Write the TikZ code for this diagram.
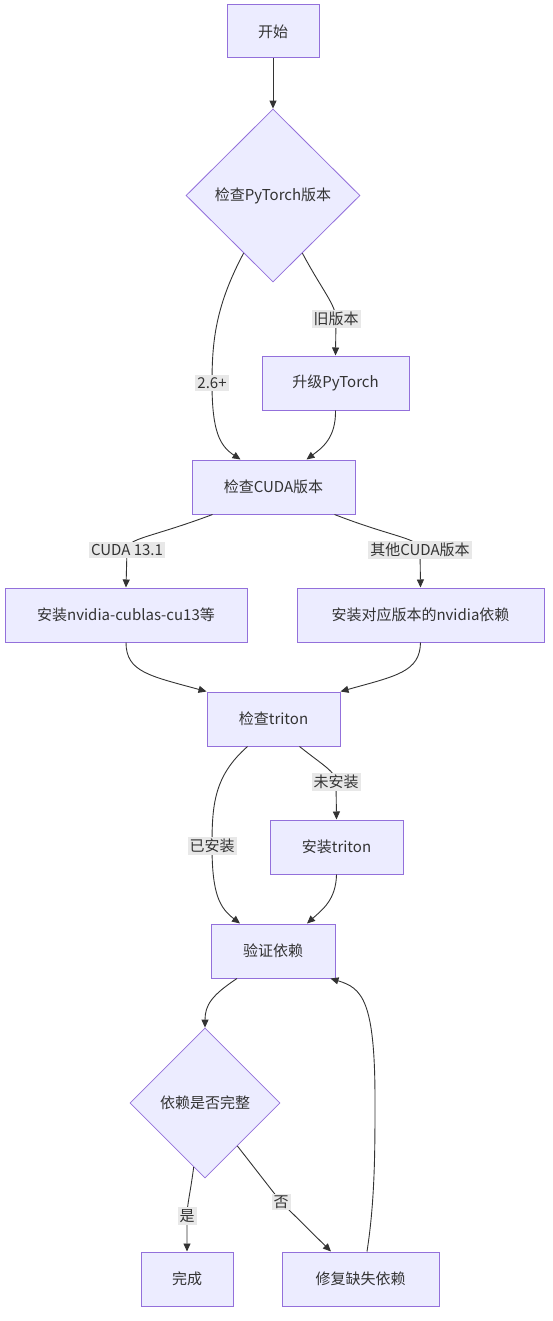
\documentclass[tikz,border=0pt]{standalone}
\usepackage{fontspec}
\usepackage{tikz}
\usetikzlibrary{shapes.geometric,arrows.meta}
\newfontfamily\cjk{Noto Sans CJK SC}
\definecolor{flowFill}{HTML}{ECECFF}
\definecolor{flowBorder}{HTML}{9370DB}
\definecolor{flowLine}{HTML}{333333}
\definecolor{flowLabel}{HTML}{E8E8E8}

\begin{document}
\begin{tikzpicture}[x=1pt, y=-1pt,
  every node/.style={font=\cjk\fontsize{15}{17}\selectfont, text=flowLine},
  box/.style={draw=flowBorder, fill=flowFill, line width=1pt, minimum height=54pt, inner sep=0pt},
  decide/.style={diamond, draw=flowBorder, fill=flowFill, line width=0.8pt, inner sep=0pt},
  lbl/.style={fill=flowLabel, inner sep=2pt},
  link/.style={draw=flowLine, line width=0.9pt, -{Triangle[length=8pt,width=7pt]}}
]

%
\useasboundingbox (0,0) rectangle (552,1321);

%
\node[box, minimum width=92pt, minimum height=53pt] (start) at (273,31.5) {开始};
\node[decide, minimum width=174pt, minimum height=173pt] (ptcheck) at (273,195.5) {检查PyTorch版本};
\node[box, minimum width=147pt] (upgrade) at (335.5,383) {升级PyTorch};
\node[box, minimum width=163pt] (cudacheck) at (273.5,487) {检查CUDA版本};
\node[box, minimum width=242pt] (cublas) at (126,615) {安装nvidia-cublas-cu13等};
\node[box, minimum width=247pt] (otherdeps) at (420.5,615) {安装对应版本的nvidia依赖};
\node[box, minimum width=133pt] (tritoncheck) at (273.5,719) {检查triton};
\node[box, minimum width=133pt] (tritoninst) at (336.5,847) {安装triton};
\node[box, minimum width=124pt] (verify) at (273,951) {验证依赖};
\node[decide, minimum width=150pt, minimum height=150pt] (complete) at (205,1103) {依赖是否完整};
\node[box, minimum width=92pt] (done) at (187,1279) {完成};
\node[box, minimum width=157pt] (repair) at (360.5,1279) {修复缺失依赖};

%
\draw[link] (start) -- (ptcheck);

%
\draw[link] (ptcheck.-117) .. controls (216,305) and (212,340) .. (212,383) node[lbl] {2.6+}
  .. controls (212,432) and (220,446) .. ([xshift=-33pt]cudacheck.north);
\draw[link] (ptcheck.-63) .. controls (322,290) and (336,305) .. (336,319) node[lbl] {旧版本}
  -- (upgrade.north);
\draw[link] (upgrade.south) .. controls (336,438) and (322,448) .. ([xshift=33pt]cudacheck.north);

%
\draw[link] ([xshift=-61pt]cudacheck.south) .. controls (150,538) and (127,538) .. (127,550) node[lbl] {CUDA 13.1}
  -- (cublas.north);
\draw[link] ([xshift=61pt]cudacheck.south) .. controls (395,538) and (420,538) .. (420,550) node[lbl] {其他CUDA版本}
  -- (otherdeps.north);

%
\draw[link] (cublas.south) .. controls (126,672) and (150,676) .. (tritoncheck.north west);
\draw[link] (otherdeps.south) .. controls (420,672) and (396,676) .. (tritoncheck.north east);

%
\draw[link] ([xshift=-26pt]tritoncheck.south) .. controls (214,776) and (212,805) .. (212,846) node[lbl] {已安装}
  .. controls (212,895) and (220,908) .. ([xshift=-33pt]verify.north);
\draw[link] ([xshift=26pt]tritoncheck.south) .. controls (324,766) and (336,772) .. (336,782) node[lbl] {未安装}
  -- (tritoninst.north);
\draw[link] (tritoninst.south) .. controls (336,900) and (322,910) .. ([xshift=34pt]verify.north);

%
\draw[link] ([xshift=-36pt]verify.south) .. controls (212,995) and (205,1005) .. (complete.north);
\draw[link] (complete.-100) .. controls (190,1195) and (187,1205) .. (187,1216) node[lbl] {是}
  -- (done.north);
\draw[link] (complete.-53) -- (281,1202) node[lbl] {否} -- ([xshift=-29.5pt]repair.north);
\draw[link] ([xshift=6.5pt]repair.north) .. controls (375,1200) and (375,1150) .. (375,1100)
  .. controls (375,1000) and (362,988) .. ([xshift=-5pt]verify.south east);

\end{tikzpicture}
\end{document}
